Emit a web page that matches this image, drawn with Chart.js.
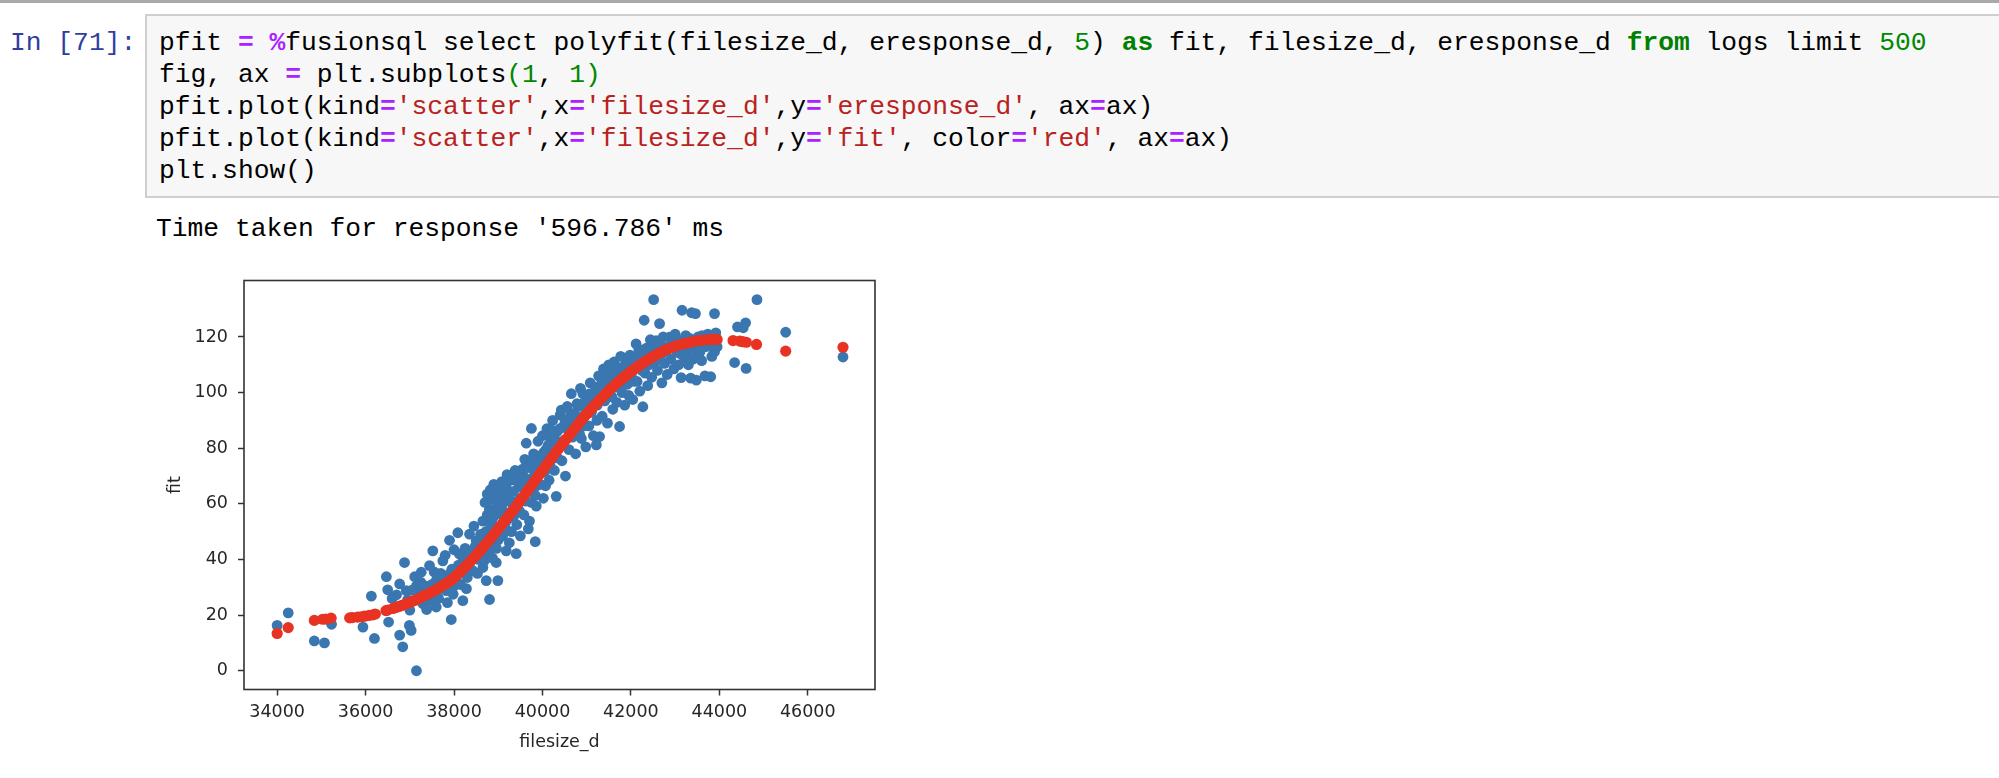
<!DOCTYPE html>
<html>
<head>
<meta charset="utf-8">
<script src="https://cdn.jsdelivr.net/npm/chart.js@4.4.1/dist/chart.umd.min.js"></script>
<style>
html, body { margin: 0; padding: 0; background: #fff; width: 1999px; height: 778px; overflow: hidden; }
.topbar { position: absolute; left: 0; top: 0; width: 1999px; height: 3px; background: #a9a9a9; }
.mono { font-family: 'Liberation Mono', 'DejaVu Sans Mono', monospace; font-size: 26.3px; line-height: 32px; white-space: pre; }
.prompt { position: absolute; left: 10px; top: 27px; color: #303f9f; }
.cell { position: absolute; left: 145px; top: 14px; width: 1900px; height: 180px; background: #f7f7f7; border: 2px solid #cfcfcf; }
.code { position: absolute; left: 12px; top: 11px; margin: 0; color: #000; }
.o { color: #aa22ff; font-weight: bold; }
.k { color: #008000; font-weight: bold; }
.n { color: #008800; }
.s { color: #ba2121; }
.out { position: absolute; left: 156px; top: 213px; color: #000; }
#wrap { position: absolute; left: 150px; top: 260px; width: 750px; height: 518px; }
</style>
</head>
<body>
<div class="topbar"></div>
<div class="mono prompt">In [71]:</div>
<div class="cell">
<pre class="mono code">pfit <span class="o">=</span> <span class="o">%</span>fusionsql select polyfit(filesize_d, eresponse_d, <span class="n">5</span>) <span class="k">as</span> fit, filesize_d, eresponse_d <span class="k">from</span> logs limit <span class="n">500</span>
fig, ax <span class="o">=</span> plt.subplots<span class="n">(1</span>, <span class="n">1)</span>
pfit.plot(kind<span class="o">=</span><span class="s">'scatter'</span>,x<span class="o">=</span><span class="s">'filesize_d'</span>,y<span class="o">=</span><span class="s">'eresponse_d'</span>, ax<span class="o">=</span>ax)
pfit.plot(kind<span class="o">=</span><span class="s">'scatter'</span>,x<span class="o">=</span><span class="s">'filesize_d'</span>,y<span class="o">=</span><span class="s">'fit'</span>, color<span class="o">=</span><span class="s">'red'</span>, ax<span class="o">=</span>ax)
plt.show()</pre>
</div>
<div class="mono out">Time taken for response '596.786' ms</div>
<div id="wrap"><canvas id="myChart" width="750" height="518"></canvas></div>

<script>
// pontos azuis: filesize_d x eresponse_d
var blueX = [
  34000, 34250, 34840, 35070, 35230, 35940, 36130, 36200, 36470, 36500,
  36520, 36770, 36770, 36840, 36880, 36920, 36990, 37030, 37150, 37110,
  36600, 36700, 36950, 37000, 37180, 37258, 37520, 37446, 37597, 37747,
  37898, 38086, 37822, 37446, 37597, 37296, 37937, 38199, 38199, 38351,
  38502, 38652, 38729, 38803, 38991, 38955, 38803, 39181, 39407, 39837,
  39706, 39480, 39181, 38652, 38351, 37200, 37350, 37380, 37500, 37650,
  37700, 37800, 37850, 38000, 38000, 38100, 38150, 38250, 38300, 38420,
  38450, 38550, 38600, 38700, 38750, 37150, 37050, 37250, 37550, 37950,
  38700, 38750, 38800, 38820, 38850, 38880, 38900, 38950, 38980, 39000,
  39050, 39080, 39100, 39150, 39180, 39200, 39250, 39280, 39300, 39350,
  39380, 39420, 39450, 39500, 38900, 39000, 38850, 39100, 39250, 39350,
  39520, 39550, 39580, 39600, 39633, 39650, 39680, 39700, 39750, 39750,
  39780, 39800, 39840, 39860, 39880, 39900, 39950, 39980, 40000, 40020,
  40050, 40080, 40100, 40150, 40180, 40200, 40230, 40270, 40311, 40330,
  40360, 40400, 40425, 40440, 40480, 40500, 40520, 40560, 40600, 40620,
  40652, 40680, 40720, 40750, 40780, 40820, 40860, 40880, 40914, 40950,
  40980, 41020, 41050, 41080, 41110, 41150, 41180, 41218, 41240, 41270,
  41292, 41320, 41350, 41380, 41410, 41440, 41470, 41500, 41530, 41560,
  41590, 41620, 41650, 41680, 41710, 41744, 41770, 41800, 41830, 41860,
  41890, 41920, 41950, 41980, 42010, 42040, 42070, 42117, 42140, 42170,
  42200, 42230, 42270, 42300, 42320, 42350, 42380, 42410, 42440, 42470,
  42514, 42530, 42570, 42600, 42620, 42648, 42670, 42700, 42730, 42760,
  42790, 42820, 42870, 42900, 42940, 42970, 43000, 43040, 43080, 43135,
  43156, 43180, 43210, 43240, 43280, 43300, 43351, 43373, 43405, 43440,
  43459, 43480, 43520, 43560, 43600, 43640, 43675, 43700, 43740, 43805,
  43830, 43860, 43891, 43891, 43920, 44345, 44410, 44540, 44594, 44605, 44851, 45500, 46796,
  37480, 37620, 37680, 37760, 37880, 37980, 38060, 38120, 38230, 38280,
  38380, 38470, 38530, 38580, 38640, 38680, 38720, 38780, 38830, 38870,
  38920, 38960, 39020, 39060, 39120, 39170, 39220, 39270, 39320, 39370,
  39430, 39470, 39540, 39590, 39620, 39670, 39720, 39770, 39820, 39870,
  39920, 39970, 40030, 40070, 40130, 40170, 40210, 40250, 40290, 40340,
  40390, 40460, 40510, 40580, 40640, 40700, 40760, 40800, 40840, 40900,
  40940, 41000, 41060, 41130, 41200, 41230, 41300, 41340, 41400, 41460,
  41520, 41570, 41640, 41700, 41760, 41820, 41880, 41940, 42000, 42060,
  42120, 42180, 42250, 42330, 42390, 42460, 42540, 42680, 42840, 43060,
  43120, 43230, 43330, 43470, 43610, 43780, 43950, 43320, 43540, 43700
];
var blueY = [
  16.3, 20.8, 10.7, 10.0, 16.7, 15.7, 26.8, 11.6, 33.8, 29.1,
  17.5, 31.2, 12.8, 8.6, 38.9, 28.8, 16.3, 14.5, 0.0, 33.8,
  26.0, 27.3, 25.5, 21.8, 29.5, 35.4, 43.1, 37.8, 32.4, 39.5,
  46.9, 49.6, 28.8, 25.2, 22.9, 24.1, 18.4, 25.2, 40.7, 37.1,
  46.7, 37.1, 32.4, 25.6, 32.4, 38.9, 43.1, 43.1, 42.1, 46.4,
  53.8, 57.4, 53.8, 53.8, 49.1, 27.5, 30.5, 22.0, 31.0, 26.0,
  35.0, 41.5, 24.5, 30.5, 43.5, 38.0, 31.0, 44.0, 33.5, 36.0,
  52.0, 40.0, 49.0, 42.0, 56.0, 30.5, 29.0, 31.8, 35.5, 36.5,
  60.5, 63.5, 58.0, 65.0, 61.5, 55.0, 67.0, 62.5, 58.5, 65.5,
  60.0, 68.0, 63.0, 57.0, 66.0, 70.5, 61.5, 68.5, 50.0, 64.5,
  72.0, 52.5, 67.5, 48.5, 52.0, 47.0, 45.0, 48.5, 46.0, 55.5,
  62.0, 72.5, 56.0, 76.0, 81.8, 66.5, 51.0, 74.0, 87.1, 60.5,
  69.0, 78.0, 63.0, 59.2, 73.5, 82.5, 67.0, 77.5, 84.5, 62.0,
  71.5, 79.5, 87.0, 68.5, 83.5, 76.0, 90.0, 72.0, 62.7, 86.0,
  80.0, 92.0, 93.7, 75.5, 88.0, 83.0, 70.0, 95.0, 79.5, 89.5,
  99.6, 84.0, 92.5, 78.0, 96.0, 87.5, 101.5, 83.5, 99.6, 92.0,
  80.5, 97.0, 88.0, 103.5, 93.0, 84.5, 100.0, 81.2, 95.5, 106.0,
  84.2, 101.0, 91.5, 108.5, 97.0, 104.0, 89.0, 110.0, 99.0, 106.5,
  94.0, 111.0, 102.0, 96.5, 108.0, 87.8, 113.0, 100.0, 106.0, 95.5,
  110.5, 103.0, 99.0, 113.5, 106.5, 97.5, 111.0, 117.5, 104.0, 109.0,
  100.5, 113.5, 94.9, 126.0, 107.0, 116.0, 102.5, 110.0, 119.0, 105.5,
  133.4, 114.5, 118.7, 108.0, 112.0, 124.8, 117.0, 103.5, 120.0, 110.5,
  115.0, 106.5, 119.9, 112.0, 117.5, 108.5, 121.0, 114.5, 110.0, 105.4,
  129.6, 118.0, 112.5, 120.5, 115.0, 110.0, 105.2, 128.7, 112.0, 117.0,
  128.4, 104.5, 120.0, 114.5, 111.5, 118.5, 106.0, 116.5, 121.0, 105.7,
  113.0, 119.0, 128.4, 114.7, 121.5, 110.8, 123.6, 123.3, 125.1, 108.7, 133.4, 121.7, 112.8,
  27.0, 33.5, 29.5, 31.5, 34.5, 27.5, 32.0, 42.0, 37.5, 29.5,
  42.5, 44.5, 35.0, 45.5, 47.5, 39.5, 50.0, 48.0, 52.5, 40.5,
  57.0, 44.0, 56.5, 49.5, 60.5, 51.0, 63.5, 55.0, 60.0, 69.5,
  61.0, 71.5, 66.0, 69.5, 61.0, 73.0, 64.5, 76.0, 70.5, 66.5,
  75.0, 71.0, 78.5, 66.5, 81.0, 74.0, 86.5, 79.5, 83.0, 76.5,
  87.0, 82.0, 90.0, 86.5, 92.0, 88.5, 91.5, 95.0, 85.0, 96.0,
  88.0, 94.0, 99.5, 97.0, 102.0, 90.0, 98.5, 104.5, 101.5, 107.0,
  103.5, 98.5, 107.5, 104.5, 109.0, 103.5, 107.5, 112.0, 110.0, 104.0,
  113.0, 115.5, 108.0, 112.5, 114.5, 116.5, 111.0, 113.5, 116.5, 119.0,
  114.0, 116.0, 119.5, 115.5, 120.5, 117.5, 116.5, 112.5, 117.0, 119.5
];

// pontos vermelhos: filesize_d x fit (polyfit grau 5)
var fitX = [
  34000, 34250, 34840, 35030, 35100, 35220, 35640, 35700, 35820, 35900,
  35975, 36080, 36163, 36220, 36460, 36500, 36620, 36700, 36770, 36840,
  36910, 36990, 37060, 37130, 37210, 37280, 37350, 37420, 37490, 37560,
  37630, 37700, 37770, 37840, 37900, 37960, 38020, 38080, 38140, 38200,
  38260, 38320, 38380, 38440, 38500, 38560, 38620, 38680, 38740, 38800,
  38860, 38920, 38980, 39040, 39100, 39160, 39220, 39280, 39340, 39400,
  39460, 39520, 39580, 39640, 39700, 39760, 39820, 39880, 39940, 40000,
  40060, 40120, 40180, 40240, 40300, 40360, 40420, 40480, 40540, 40600,
  40660, 40720, 40780, 40840, 40900, 40960, 41020, 41080, 41140, 41200,
  41260, 41320, 41380, 41440, 41500, 41560, 41620, 41680, 41740, 41800,
  41870, 41940, 42010, 42080, 42150, 42220, 42290, 42360, 42430, 42500,
  42570, 42640, 42710, 42780, 42860, 42940, 43020, 43100, 43180, 43260,
  43340, 43420, 43500, 43580, 43660, 43740, 43820, 43900, 43950, 44310,
  44460, 44530, 44610, 44840, 45500, 46796
];
var fitY = [
  13.4, 15.5, 18.1, 18.5, 18.6, 18.9, 19.0, 19.1, 19.3, 19.4,
  19.6, 19.9, 20.1, 20.4, 21.6, 21.8, 22.4, 22.8, 23.2, 23.6,
  24.0, 24.5, 25.0, 25.4, 26.0, 26.6, 27.2, 27.7, 28.3, 28.9,
  29.5, 30.2, 30.9, 31.6, 32.2, 32.9, 33.7, 34.6, 35.6, 36.5,
  37.5, 38.5, 39.5, 40.5, 41.5, 42.6, 43.7, 44.8, 45.9, 47.0,
  48.2, 49.4, 50.6, 51.8, 53.0, 54.2, 55.4, 56.6, 57.8, 59.0,
  60.3, 61.6, 62.9, 64.2, 65.5, 66.8, 68.1, 69.4, 70.7, 72.0,
  73.3, 74.6, 75.9, 77.2, 78.5, 79.7, 80.9, 82.1, 83.3, 84.5,
  85.7, 86.9, 88.1, 89.3, 90.5, 91.6, 92.6, 93.7, 94.7, 95.8,
  96.8, 97.8, 98.8, 99.7, 100.7, 101.6, 102.5, 103.4, 104.2, 105.0,
  105.9, 106.8, 107.7, 108.5, 109.3, 110.1, 110.9, 111.6, 112.3, 112.9,
  113.6, 114.2, 114.8, 115.3, 115.8, 116.3, 116.8, 117.2, 117.5, 117.8,
  118.1, 118.4, 118.6, 118.8, 118.9, 119.0, 119.1, 119.1, 119.1, 118.7,
  118.5, 118.3, 118.1, 117.3, 114.9, 116.3
];

var xTicks = [34000, 36000, 38000, 40000, 42000, 44000, 46000];
var yTicks = [0, 20, 40, 60, 80, 100, 120];

var fonteEixo = { family: "'DejaVu Sans', sans-serif", size: 17.5 };
var corTexto = '#262626';

// moldura completa do eixo, como no matplotlib
var moldura = {
  id: 'moldura',
  afterDatasetsDraw: function(chart) {
    var a = chart.chartArea, c = chart.ctx;
    c.save();
    c.strokeStyle = '#333';
    c.lineWidth = 1.6;
    c.strokeRect(a.left, a.top, a.right - a.left, a.bottom - a.top);
    c.restore();
  }
};

var ctx = document.getElementById('myChart').getContext('2d');
var myChart = new Chart(ctx, {
  type: 'scatter',
  data: {
    datasets: [{
      label: 'fit',
      order: 0,
      data: fitX.map(function(x, i) { return { x: x, y: fitY[i] }; }),
      pointRadius: 5.6,
      pointBorderWidth: 0,
      backgroundColor: '#e83323'
    }, {
      label: 'eresponse_d',
      order: 1,
      data: blueX.map(function(x, i) { return { x: x, y: blueY[i] }; }),
      pointRadius: 5.4,
      pointBorderWidth: 0,
      backgroundColor: '#3a76b0'
    }]
  },
  options: {
    responsive: false,
    animation: false,
    layout: { padding: { top: 19, right: 25, left: 0, bottom: 0 } },
    plugins: { legend: { display: false }, tooltip: { enabled: false } },
    scales: {
      x: {
        type: 'linear',
        min: 33250,
        max: 47520,
        afterFit: function(s) { s.height = 88.5; },
        afterBuildTicks: function(s) { s.ticks = xTicks.map(function(v) { return { value: v }; }); },
        ticks: { font: fonteEixo, color: corTexto, padding: 6, maxRotation: 0, autoSkip: false,
                 callback: function(v) { return String(v); } },
        grid: { drawOnChartArea: false, drawTicks: true, tickLength: 6, tickColor: '#333', tickWidth: 1.5 },
        border: { display: false },
        title: { display: true, text: 'filesize_d', font: fonteEixo, color: corTexto, padding: { top: 0, bottom: 25.5 } }
      },
      y: {
        min: -6.75,
        max: 140.3,
        afterFit: function(s) { s.width = 94; },
        afterBuildTicks: function(s) { s.ticks = yTicks.map(function(v) { return { value: v }; }); },
        ticks: { font: fonteEixo, color: corTexto, padding: 10, autoSkip: false,
                 callback: function(v) { return String(v); } },
        grid: { drawOnChartArea: false, drawTicks: true, tickLength: 6, tickColor: '#333', tickWidth: 1.5 },
        border: { display: false },
        title: { display: true, text: 'fit', font: fonteEixo, color: corTexto, padding: { top: 14.5, bottom: 0 } }
      }
    }
  },
  plugins: [moldura]
});
</script>
</body>
</html>
